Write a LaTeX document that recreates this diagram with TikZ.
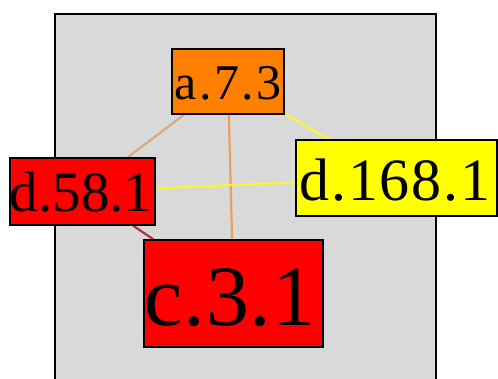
\documentclass[tikz,border=0pt]{standalone}
\usepackage{fontspec}
\setmainfont{Liberation Serif}
\begin{document}
\begin{tikzpicture}[x=1pt,y=-1pt,
  box/.style={draw=black, line width=1.5pt, inner sep=0pt},
  lbl/.style={anchor=base, inner sep=0pt, text=black},
  edge/.style={line width=2.2pt}]
\definecolor{bggray}{RGB}{217,217,217}
\definecolor{orangefill}{RGB}{255,128,0}
\definecolor{redfill}{RGB}{255,0,0}
\definecolor{yellowfill}{RGB}{255,255,0}
\definecolor{tanedge}{RGB}{214,170,128}
\definecolor{orangeedge}{RGB}{232,160,96}
\definecolor{yellowedge}{RGB}{250,245,50}
\definecolor{maroonedge}{RGB}{176,48,72}
\useasboundingbox (0,0) rectangle (498,379);
\clip (0,0) rectangle (498,379);
\fill[white] (0,0) rectangle (498,379);
\node[draw=black, line width=1.6pt, fill=bggray, inner sep=0pt,
  minimum width=381, minimum height=380, anchor=north west] (bg) at (54,13) {};
% nodes (boxes)
\node[box, fill=orangefill, minimum width=112, minimum height=65] (a) at (228,81.5) {};
\node[box, fill=redfill, minimum width=145, minimum height=67] (d58) at (82.5,191.5) {};
\node[box, fill=yellowfill, minimum width=201, minimum height=76] (d168) at (396.5,178) {};
\node[box, fill=redfill, minimum width=179, minimum height=107] (c) at (233.5,293.5) {};
% edges
\draw[edge, tanedge] (a) -- (d58);
\draw[edge, orangeedge] (a) -- (c);
\draw[edge, yellowedge] (a) -- (d168);
\draw[edge, yellowedge] (d58) -- (d168);
\draw[edge, maroonedge] (d58) -- (c);
% redraw boxes on top of the edges
\node[box, fill=orangefill, minimum width=112, minimum height=65] at (a) {};
\node[box, fill=redfill, minimum width=145, minimum height=67] at (d58) {};
\node[box, fill=yellowfill, minimum width=201, minimum height=76] at (d168) {};
\node[box, fill=redfill, minimum width=179, minimum height=107] at (c) {};
% labels
\node[lbl, font=\fontsize{50}{50}\selectfont\addfontfeature{LetterSpace=5}] (ta) at (228,100) {a.7.3};
\node[lbl, font=\fontsize{57}{57}\selectfont] (td58) at (81,212) {d.58.1};
\node[lbl, font=\fontsize{60}{60}\selectfont\addfontfeature{LetterSpace=3}] (td168) at (395,201) {d.168.1};
\node[lbl, font=\fontsize{86}{86}\selectfont\addfontfeature{LetterSpace=1}] (tc) at (230,326) {c.3.1};
\end{tikzpicture}
\end{document}
